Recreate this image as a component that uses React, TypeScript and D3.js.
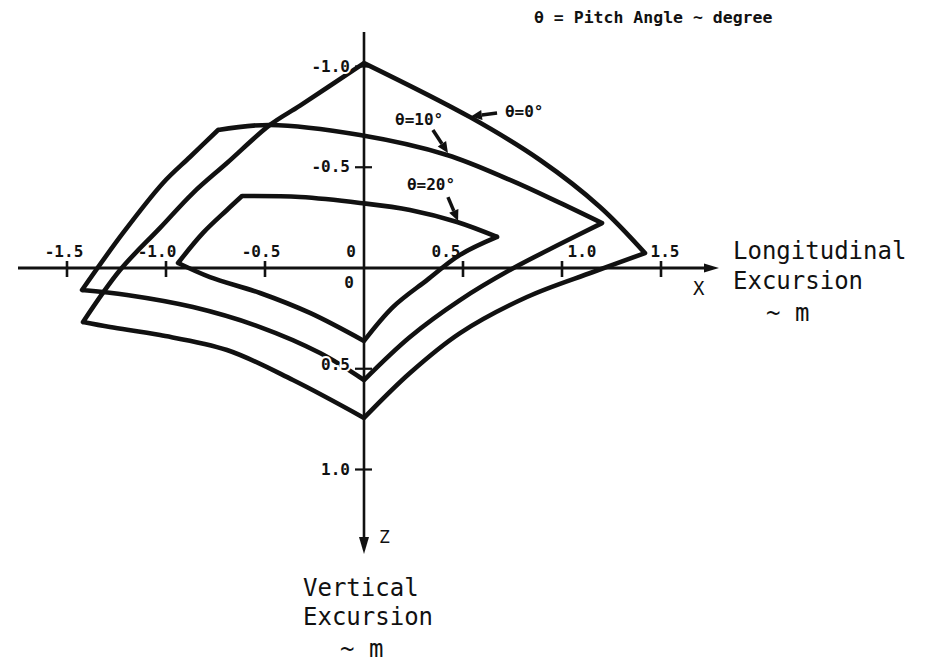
import React, { useEffect, useRef } from 'react';
import * as d3 from 'd3';

// theta = 0 deg excursion envelope (x, z in m), corners mark the sharp vertices
const pitch0X = [0, 0.535, 0.889, 1.192, 1.419, 1.157, 0.823, 0.485, 0.232, 0, -0.359, -0.692, -1.03, -1.283, -1.419, -1.232, -1.03, -0.864, -0.692, -0.475, -0.323, 0];
const pitch0Z = [-1.017, -0.749, -0.536, -0.303, -0.074, 0.02, 0.144, 0.323, 0.521, 0.744, 0.556, 0.407, 0.333, 0.293, 0.268, 0.01, -0.199, -0.372, -0.521, -0.71, -0.806, -1.017];
const pitch0Corners = [0, 4, 9, 14, 21];

// theta = 10 deg
const pitch10X = [-0.737, -0.475, -0.02, 0.419, 0.737, 0.99, 1.202, 0.99, 0.737, 0.485, 0.232, 0, -0.222, -0.525, -0.864, -1.197, -1.424, -1.217, -1.015, -0.879, -0.737];
const pitch10Z = [-0.685, -0.71, -0.66, -0.561, -0.437, -0.323, -0.223, -0.119, 0.01, 0.159, 0.342, 0.556, 0.422, 0.293, 0.194, 0.134, 0.109, -0.174, -0.422, -0.551, -0.685];
const pitch10Corners = [0, 6, 11, 16, 20];

// theta = 20 deg
const pitch20X = [-0.616, -0.323, -0.02, 0.232, 0.47, 0.672, 0.485, 0.318, 0.146, 0, -0.273, -0.525, -0.778, -0.939, -0.813, -0.692, -0.616];
const pitch20Z = [-0.357, -0.352, -0.323, -0.288, -0.228, -0.154, -0.065, 0.06, 0.194, 0.362, 0.223, 0.124, 0.045, -0.025, -0.174, -0.288, -0.357];
const pitch20Corners = [0, 5, 9, 13, 16];

const xTicks = [-1.5, -1.0, -0.5, 0.5, 1.0, 1.5];
const xTickLabels = ['-1.5', '-1.0', '-0.5', '0.5', '1.0', '1.5'];
const zTicks = [-1.0, -0.5, 0.5, 1.0];
const zTickLabels = ['-1.0', '-0.5', '0.5', '1.0'];
const curveLabels = ['θ=0°', 'θ=10°', 'θ=20°'];

const MONO = '"DejaVu Sans Mono", monospace';

function edgesOf(xs: number[], zs: number[], corners: number[]) {
  const edges: [number, number][][] = [];
  for (let i = 0; i < corners.length - 1; i++) {
    const e: [number, number][] = [];
    for (let j = corners[i]; j <= corners[i + 1]; j++) e.push([xs[j], zs[j]]);
    edges.push(e);
  }
  return edges;
}

export default function App() {
  const ref = useRef<SVGSVGElement>(null);

  useEffect(() => {
    const svg = d3.select(ref.current);
    svg.selectAll('*').remove();

    const xScale = d3.scaleLinear().domain([-1.5, 1.5]).range([67, 661]);
    const zScale = d3.scaleLinear().domain([-1, 1]).range([66.5, 469.5]);
    const x0 = xScale(0);
    const z0 = zScale(0);

    const line = d3
      .line<[number, number]>()
      .x(d => xScale(d[0]))
      .y(d => zScale(d[1]))
      .curve(d3.curveCatmullRom.alpha(0.5));

    // axes
    svg.append('line')
      .attr('x1', 18).attr('x2', 710)
      .attr('y1', z0).attr('y2', z0)
      .attr('stroke', '#111').attr('stroke-width', 3);
    svg.append('path')
      .attr('d', `M719,${z0} L704,${z0 - 4.5} L704,${z0 + 4.5} Z`)
      .attr('fill', '#111');
    svg.append('line')
      .attr('x1', x0).attr('x2', x0)
      .attr('y1', 32).attr('y2', 542)
      .attr('stroke', '#111').attr('stroke-width', 2.6);
    svg.append('path')
      .attr('d', `M${x0},554 L${x0 - 5},537 L${x0 + 5},537 Z`)
      .attr('fill', '#111');

    // ticks
    svg.selectAll('.xtick')
      .data(xTicks)
      .enter()
      .append('line')
      .attr('class', 'xtick')
      .attr('x1', d => xScale(d)).attr('x2', d => xScale(d))
      .attr('y1', z0 - 7).attr('y2', z0 + 9)
      .attr('stroke', '#111').attr('stroke-width', 2.6);
    svg.selectAll('.ztick')
      .data(zTicks)
      .enter()
      .append('line')
      .attr('class', 'ztick')
      .attr('x1', x0 - 9).attr('x2', x0 + 8)
      .attr('y1', d => zScale(d)).attr('y2', d => zScale(d))
      .attr('stroke', '#111').attr('stroke-width', 2.2);

    // envelopes
    const curves = [
      edgesOf(pitch0X, pitch0Z, pitch0Corners),
      edgesOf(pitch10X, pitch10Z, pitch10Corners),
      edgesOf(pitch20X, pitch20Z, pitch20Corners),
    ];
    curves.forEach(edges => {
      svg.append('path')
        .attr('d', edges.map(e => line(e)).join(''))
        .attr('fill', 'none')
        .attr('stroke', '#111')
        .attr('stroke-width', 4.6)
        .attr('stroke-linejoin', 'round')
        .attr('stroke-linecap', 'round');
    });

    // tick labels
    const xNudge = [-3, -9, -4, -17, 20, 4];
    svg.selectAll('.xlab')
      .data(xTickLabels)
      .enter()
      .append('text')
      .attr('class', 'xlab')
      .attr('x', (d, i) => xScale(xTicks[i]) + xNudge[i])
      .attr('y', z0 - 11)
      .attr('text-anchor', 'middle')
      .attr('font-family', MONO)
      .attr('font-size', 16)
      .attr('font-weight', 'bold')
      .attr('fill', '#111')
      .text(d => d);
    svg.selectAll('.zlab')
      .data(zTickLabels)
      .enter()
      .append('text')
      .attr('class', 'zlab')
      .attr('x', x0 - 14)
      .attr('y', (d, i) => zScale(zTicks[i]) + (zTicks[i] === 0.5 ? 1 : 5))
      .attr('text-anchor', 'end')
      .attr('font-family', MONO)
      .attr('font-size', 16)
      .attr('font-weight', 'bold')
      .attr('fill', '#111')
      .attr('stroke', '#fff')
      .attr('stroke-width', 4)
      .attr('paint-order', 'stroke')
      .text(d => d);
    [[z0 - 11, 356], [z0 + 20, 354]].forEach(([y, x]) => {
      svg.append('text')
        .attr('x', x).attr('y', y)
        .attr('text-anchor', 'end')
        .attr('font-family', MONO)
        .attr('font-size', 16)
        .attr('font-weight', 'bold')
        .attr('fill', '#111')
        .text('0');
    });

    // curve annotations: label position and arrow (from, to) in data units
    const notes = [
      { lx: 0.712, lz: -0.749, a: [0.672, -0.769], b: [0.54, -0.752] },
      { lx: 0.157, lz: -0.71, a: [0.348, -0.685], b: [0.424, -0.571] },
      { lx: 0.217, lz: -0.387, a: [0.424, -0.352], b: [0.475, -0.233] },
    ];
    notes.forEach((n, i) => {
      svg.append('text')
        .attr('x', xScale(n.lx)).attr('y', zScale(n.lz))
        .attr('font-family', MONO)
        .attr('font-size', 16)
        .attr('font-weight', 'bold')
        .attr('fill', '#111')
        .text(curveLabels[i]);
      const ax = xScale(n.a[0]), ay = zScale(n.a[1]);
      const bx = xScale(n.b[0]), by = zScale(n.b[1]);
      const ang = Math.atan2(by - ay, bx - ax);
      const hl = 11, hw = 5;
      const baseX = bx - hl * Math.cos(ang), baseY = by - hl * Math.sin(ang);
      svg.append('line')
        .attr('x1', ax).attr('y1', ay).attr('x2', baseX).attr('y2', baseY)
        .attr('stroke', '#111').attr('stroke-width', 3.5);
      svg.append('path')
        .attr('d', `M${bx},${by} L${baseX - hw * Math.sin(ang)},${baseY + hw * Math.cos(ang)} L${baseX + hw * Math.sin(ang)},${baseY - hw * Math.cos(ang)} Z`)
        .attr('fill', '#111');
    });

    // axis letters and titles
    svg.append('text')
      .attr('x', 693).attr('y', 295)
      .attr('font-family', MONO).attr('font-size', 19).attr('fill', '#111')
      .text('X');
    svg.append('text')
      .attr('x', 379).attr('y', 543)
      .attr('font-family', MONO).attr('font-size', 18).attr('fill', '#111')
      .text('Z');

    const title = (lines: string[], xs: number[], ys: number[]) => {
      lines.forEach((t, i) => {
        svg.append('text')
          .attr('x', xs[i]).attr('y', ys[i])
          .attr('font-family', MONO)
          .attr('font-size', 24)
          .attr('fill', '#111')
          .attr('xml:space', 'preserve')
          .text(t);
      });
    };
    title(['Longitudinal', 'Excursion', '~ m'], [733, 733, 766], [259, 289, 321]);
    title(['Vertical', 'Excursion', '~ m'], [303, 303, 340], [596, 625, 657]);

    svg.append('text')
      .attr('x', 534).attr('y', 23)
      .attr('font-family', MONO)
      .attr('font-size', 16.5)
      .attr('font-weight', 'bold')
      .attr('fill', '#111')
      .attr('xml:space', 'preserve')
      .text('θ = Pitch Angle ~ degree');
  }, []);

  return (
    <svg
      ref={ref}
      width={940}
      height={662}
      style={{ position: 'absolute', left: 0, top: 0, background: '#fff' }}
    />
  );
}
